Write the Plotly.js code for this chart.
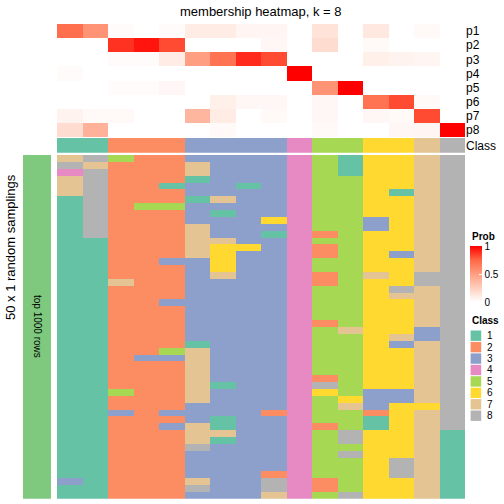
<!DOCTYPE html>
<html>
<head>
<meta charset="utf-8">
<script src="https://cdn.plot.ly/plotly-3.0.1.min.js"></script>
<style>html,body{margin:0;padding:0;background:#fff;}#chart{width:504px;height:504px;}</style>
</head>
<body>
<div id="chart"></div>
<script>
// ---- data ----
const probLabels = ["p1","p2","p3","p4","p5","p6","p7","p8"];
const classNames = ["1","2","3","4","5","6","7","8"];
const classColors = ["#66C2A5","#FC8D62","#8DA0CB","#E78AC3","#A6D854","#FFD92F","#E5C494","#B3B3B3"];
// membership probabilities: rows p1..p8, 16 columns
const p1 = [0.72,0.55,0.02,0.00,0.02,0.10,0.10,0.05,0.05,0.00,0.15,0.00,0.12,0.00,0.03,0.00];
const p2 = [0.00,0.00,0.88,0.95,0.82,0.00,0.00,0.00,0.04,0.00,0.18,0.00,0.03,0.00,0.00,0.00];
const p3 = [0.00,0.00,0.02,0.02,0.10,0.50,0.70,0.90,0.82,0.00,0.00,0.00,0.08,0.06,0.05,0.00];
const p4 = [0.02,0.00,0.00,0.00,0.00,0.00,0.00,0.00,0.00,1.00,0.00,0.00,0.00,0.00,0.00,0.00];
const p5 = [0.00,0.00,0.02,0.02,0.04,0.00,0.00,0.00,0.00,0.00,0.55,1.00,0.00,0.00,0.00,0.00];
const p6 = [0.00,0.00,0.00,0.00,0.00,0.00,0.08,0.04,0.04,0.00,0.04,0.00,0.70,0.82,0.03,0.00];
const p7 = [0.06,0.03,0.03,0.00,0.00,0.38,0.10,0.00,0.03,0.00,0.04,0.00,0.04,0.03,0.82,0.00];
const p8 = [0.18,0.40,0.00,0.00,0.00,0.00,0.03,0.00,0.00,0.00,0.03,0.00,0.00,0.04,0.05,1.00];
// consensus class of each column
const columnClass = [1,1,2,2,2,3,3,3,3,4,5,5,6,6,7,8];
// class assigned in each of the 50 random samplings (rows) for each column
const samplings = [
 [7,8,5,2,2,3,3,3,3,4,5,1,6,6,7,8],
 [8,7,2,2,2,7,3,3,3,4,5,1,6,6,7,8],
 [4,8,2,2,2,7,3,3,3,4,5,1,6,6,7,8],
 [7,8,2,2,2,1,3,3,3,4,5,5,6,6,7,8],
 [7,8,2,2,1,3,3,1,3,4,5,5,6,6,7,8],
 [7,8,2,2,2,3,3,3,3,4,5,5,6,1,7,8],
 [1,8,2,2,2,1,7,3,3,4,5,5,6,6,7,8],
 [1,8,2,5,5,3,3,3,3,4,5,5,6,6,7,8],
 [1,8,2,2,2,3,1,3,3,4,5,5,6,6,7,8],
 [1,8,2,2,2,3,3,3,6,4,5,5,3,6,7,8],
 [1,8,2,2,2,7,3,3,3,4,5,5,3,6,7,8],
 [1,8,2,2,2,7,3,3,1,4,2,5,6,6,7,8],
 [1,1,2,2,2,7,7,3,3,4,5,5,6,6,7,8],
 [1,1,2,2,2,7,6,6,3,4,2,5,6,6,7,8],
 [1,1,2,2,2,7,6,3,3,4,2,5,6,3,7,8],
 [1,1,2,2,3,3,6,3,3,4,5,5,6,6,7,8],
 [1,1,2,2,2,3,6,3,3,4,5,5,6,6,7,8],
 [1,1,2,2,2,3,7,3,3,4,2,5,7,6,8,8],
 [1,1,7,2,2,3,3,3,3,4,2,5,6,6,8,8],
 [1,1,2,2,2,3,3,3,3,4,5,5,6,8,7,8],
 [1,1,2,2,2,3,3,3,3,4,5,5,6,7,7,8],
 [1,1,2,2,3,3,3,3,3,4,5,5,6,6,7,8],
 [1,1,2,2,2,3,3,3,3,4,5,5,6,6,7,8],
 [1,1,2,2,2,3,3,3,3,4,5,5,6,6,7,8],
 [1,1,2,2,2,3,3,3,3,4,2,5,6,6,7,8],
 [1,1,2,2,2,3,3,3,3,4,5,7,6,6,3,8],
 [1,1,2,2,2,3,3,3,3,4,5,5,6,7,3,8],
 [1,1,2,2,2,1,3,3,3,4,5,5,6,3,7,8],
 [1,1,2,2,5,7,3,3,3,4,5,5,6,6,7,8],
 [1,1,2,3,3,7,3,3,3,4,5,5,6,6,7,8],
 [1,1,2,2,2,7,3,3,3,4,5,5,6,6,7,8],
 [1,1,2,2,2,7,3,3,3,4,5,5,6,6,7,8],
 [1,1,2,2,2,7,3,3,3,4,2,5,6,6,7,8],
 [1,1,2,2,2,7,1,3,3,4,8,5,6,6,7,8],
 [1,1,5,2,2,7,3,3,3,4,6,5,3,3,7,8],
 [1,1,2,2,2,7,3,3,3,4,5,6,3,3,7,8],
 [1,1,2,2,2,3,3,3,3,4,5,7,3,6,6,8],
 [1,1,3,2,3,3,3,3,2,4,5,5,2,6,7,8],
 [1,1,2,2,2,3,1,3,3,4,5,5,1,6,7,8],
 [1,1,2,2,3,7,1,3,3,4,2,5,1,6,7,8],
 [1,1,2,2,2,7,7,3,3,4,5,8,6,6,7,1],
 [1,1,2,2,2,7,1,3,3,4,5,8,6,6,7,1],
 [1,1,2,2,2,8,3,3,3,4,5,5,6,6,7,1],
 [1,1,2,2,2,3,3,3,3,4,5,8,6,6,7,1],
 [1,1,2,2,2,3,3,3,3,4,5,5,6,8,7,1],
 [1,1,2,2,2,3,3,3,3,4,5,5,6,8,7,1],
 [1,1,2,2,2,3,3,3,2,4,5,5,6,8,7,1],
 [3,1,2,2,2,7,3,3,8,4,2,5,6,6,7,1],
 [1,1,2,2,2,8,3,3,8,4,2,5,6,6,7,1],
 [1,1,2,2,2,3,3,3,7,4,5,8,6,6,7,1]
];
const sideLabel = "top 1000 rows";

// ---- helpers ----
const W = 504, H = 504;
const px = v => v / W;
const py = v => 1 - v / H;
const nCol = columnClass.length;
const cols = Array.from({length: nCol}, (_, i) => i);

const discreteScale = [];
classColors.forEach((c, i) => {
  discreteScale.push([i / classColors.length, c]);
  discreteScale.push([(i + 1) / classColors.length, c]);
});
const probScale = [[0,"#FFFFFF"],[0.25,"#FFCFBE"],[0.5,"#FF9E81"],[0.75,"#FF6846"],[1,"#FF0000"]];

const probZ = [p1,p2,p3,p4,p5,p6,p7,p8];
const FONT = "Liberation Sans, Arial, Helvetica, sans-serif";

const traces = [
  {type:"heatmap", x: cols, y: probLabels.map((_, i) => i), z: probZ,
   xaxis:"x", yaxis:"y", colorscale: probScale, zmin:0, zmax:1, hoverinfo:"skip",
   colorbar:{x: px(470), xanchor:"left", y: py(246), yanchor:"top", len:56, lenmode:"pixels",
     thickness:12, thicknessmode:"pixels", xpad:0, ypad:0, outlinewidth:0,
     tickvals:[0,0.5,1], ticktext:["0","0.5","1"], ticks:"inside", ticklen:3, tickcolor:"#FFFFFF",
     tickfont:{family:FONT, size:10, color:"#000"}}},
  {type:"heatmap", x: cols, y:[0], z:[columnClass], xaxis:"x", yaxis:"y2",
   colorscale: discreteScale, zmin:0.5, zmax:8.5, showscale:false, hoverinfo:"skip"},
  {type:"heatmap", x: cols, y: samplings.map((_, i) => i), z: samplings, xaxis:"x", yaxis:"y3",
   colorscale: discreteScale, zmin:0.5, zmax:8.5, showscale:false, hoverinfo:"skip"},
  {type:"heatmap", x:[0], y:[0], z:[[1]], xaxis:"x2", yaxis:"y4",
   colorscale:[[0,"#7FC97F"],[1,"#7FC97F"]], zmin:0, zmax:1, showscale:false, hoverinfo:"skip"}
];

const hidden = {showgrid:false, zeroline:false, showticklabels:false, ticks:"", showline:false, fixedrange:true};

const ann = (text, x, y, opts) => Object.assign({text, x: px(x), y: py(y), xref:"paper", yref:"paper",
  xanchor:"center", yanchor:"middle", showarrow:false, font:{family:FONT, size:10, color:"#000"}}, opts || {});

const shapes = [];
const annotations = [
  ann("membership heatmap, k = 8", 261, 11, {font:{family:FONT, size:13, color:"#000"}}),
  ann("50 x 1 random samplings", 10, 247, {textangle:-90, font:{family:FONT, size:13, color:"#000"}}),
  ann(sideLabel, 38, 326, {textangle:90}),
  ann("<b>Prob</b>", 470, 236, {xanchor:"left"}),
  ann("<b>Class</b>", 470, 320.5, {xanchor:"left"})
];
classNames.forEach((nm, i) => {
  const cy = 335.7 + 11.43 * i;
  shapes.push({type:"rect", xref:"paper", yref:"paper", x0: px(470.6), x1: px(481.2),
    y0: py(cy - 5.2), y1: py(cy + 5.2), fillcolor: classColors[i], line:{width:0}});
  annotations.push(ann(nm, 485, cy, {xanchor:"left"}));
});

const layout = {
  width: W, height: H, margin:{l:0, r:0, t:0, b:0}, paper_bgcolor:"#fff", plot_bgcolor:"#fff",
  showlegend:false, font:{family:FONT},
  xaxis: Object.assign({}, hidden, {domain:[px(57), px(465)], range:[-0.5, nCol - 0.5]}),
  xaxis2: Object.assign({}, hidden, {domain:[px(23), px(51)], range:[-0.5, 0.5]}),
  yaxis: Object.assign({}, hidden, {domain:[py(137), py(24)], range:[7.5, -0.5], side:"right",
    anchor:"x", showticklabels:true, tickvals: probLabels.map((_, i) => i), ticktext: probLabels,
    tickfont:{family:FONT, size:12, color:"#000"}}),
  yaxis2: Object.assign({}, hidden, {domain:[py(152.7), py(138)], range:[0.5, -0.5], side:"right",
    anchor:"x", showticklabels:true, tickvals:[0], ticktext:["Class"],
    tickfont:{family:FONT, size:12, color:"#000"}}),
  yaxis3: Object.assign({}, hidden, {domain:[py(498.7), py(155)], range:[samplings.length - 0.5, -0.5], anchor:"x"}),
  yaxis4: Object.assign({}, hidden, {domain:[py(498.7), py(155)], range:[-0.5, 0.5], anchor:"x2"}),
  shapes, annotations
};

Plotly.newPlot("chart", traces, layout, {staticPlot:true, displayModeBar:false});
</script>
</body>
</html>
